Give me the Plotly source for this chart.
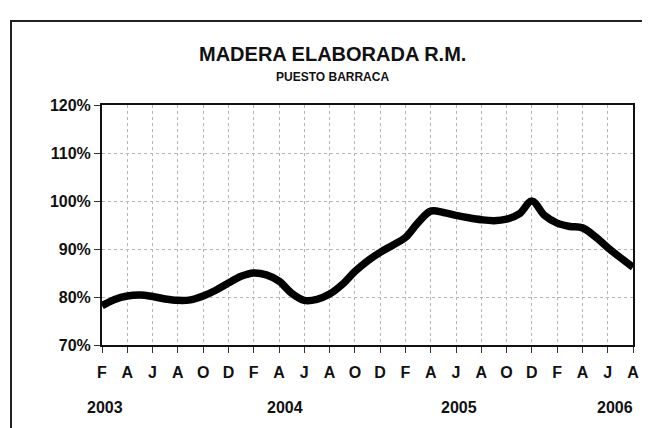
import plotly.graph_objects as go

# ---- data ----
month_index = list(range(43))  # Feb 2003 .. Aug 2006
values = [78.2, 79.5, 80.2, 80.4, 80.1, 79.6, 79.3, 79.4, 80.2, 81.4,
          82.9, 84.3, 85.0, 84.6, 83.3, 80.8, 79.3, 79.5, 80.6, 82.6,
          85.3, 87.5, 89.3, 90.8, 92.4, 95.5, 97.9, 97.6, 97.0, 96.5,
          96.1, 95.9, 96.2, 97.3, 100.0, 97.0, 95.4, 94.7, 94.4, 92.6,
          90.3, 88.2, 86.2]
tick_letters = ["F", "A", "J", "A", "O", "D"] * 3 + ["F", "A", "J", "A"]
tick_positions = list(range(0, 43, 2))
year_labels = ["2003", "2004", "2005", "2006"]
year_positions = [0.2, 14.5, 28.2, 40.6]
y_ticks = [70, 80, 90, 100, 110, 120]
y_ticktext = [f"{v}%" for v in y_ticks]

FONT = "Liberation Sans"

fig = go.Figure()
fig.add_trace(go.Scatter(
    x=month_index, y=values, mode="lines",
    line=dict(color="black", width=7.5, shape="spline", smoothing=1.0),
    hoverinfo="skip", showlegend=False,
))

fig.update_layout(
    width=650, height=428,
    margin=dict(l=94, r=25, t=97, b=91),
    paper_bgcolor="white", plot_bgcolor="white",
    font=dict(family=FONT, color="#111"),
    showlegend=False,
)
fig.update_xaxes(
    range=[0, 42], tickmode="array", tickvals=tick_positions, ticktext=tick_letters,
    ticks="outside", ticklen=6, tickcolor="#333", tickwidth=1,
    ticklabelstandoff=6,
    tickfont=dict(family=FONT, size=16, weight="bold", color="#111"),
    showgrid=True, gridcolor="#b5b5b5", griddash="dot", gridwidth=1,
    showline=True, linecolor="#111", linewidth=2, mirror=True, zeroline=False,
)
fig.update_yaxes(
    range=[70, 120], tickmode="array", tickvals=y_ticks, ticktext=y_ticktext,
    ticks="outside", ticklen=6, tickcolor="#333", tickwidth=1,
    tickfont=dict(family=FONT, size=16, weight="bold", color="#111"),
    showgrid=True, gridcolor="#b5b5b5", griddash="dot", gridwidth=1,
    showline=True, linecolor="#111", linewidth=2, mirror=True, zeroline=False,
)

# year labels
for lbl, pos in zip(year_labels, year_positions):
    fig.add_annotation(x=pos, y=-0.262, xref="x", yref="paper", text=lbl,
                       showarrow=False, xanchor="center", yanchor="middle",
                       font=dict(family=FONT, size=16, weight="bold", color="#111"))

# titles
fig.add_annotation(x=0.435, y=1.2125, xref="paper", yref="paper",
                   text="MADERA ELABORADA R.M.", showarrow=False,
                   xanchor="center", yanchor="middle",
                   font=dict(family=FONT, size=20, weight="bold", color="#111"))
fig.add_annotation(x=0.435, y=1.117, xref="paper", yref="paper",
                   text="PUESTO BARRACA", showarrow=False,
                   xanchor="center", yanchor="middle",
                   font=dict(family=FONT, size=12, weight="bold", color="#111"))

# outer frame (bottom edge lies below the visible page)
fig.add_shape(type="rect", xref="paper", yref="paper",
              x0=(3 - 94) / 531, x1=(648 - 94) / 531,
              y0=-0.5, y1=(337 - 13) / 240,
              line=dict(color="#222", width=2), fillcolor="rgba(0,0,0,0)")

fig.write_html("out.html")
